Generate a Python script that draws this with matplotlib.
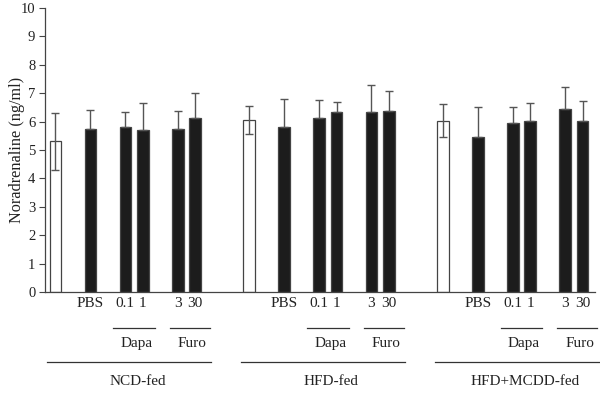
import matplotlib
matplotlib.use("Agg")
import matplotlib.pyplot as plt
import numpy as np

plt.rcParams['font.family'] = ['Liberation Serif', 'DejaVu Serif']

groups = ["NCD-fed", "HFD-fed", "HFD+MCDD-fed"]
bar_labels = ["", "PBS", "0.1", "1", "3", "30"]
ncd_mean = [5.3, 5.75, 5.8, 5.7, 5.72, 6.12]
ncd_err = [1.0, 0.67, 0.53, 0.95, 0.65, 0.88]
hfd_mean = [6.06, 5.82, 6.11, 6.33, 6.33, 6.37]
hfd_err = [0.5, 0.98, 0.64, 0.34, 0.95, 0.71]
mcdd_mean = [6.02, 5.47, 5.96, 6.01, 6.44, 6.01]
mcdd_err = [0.58, 1.03, 0.56, 0.64, 0.78, 0.72]
means = [ncd_mean, hfd_mean, mcdd_mean]
errs = [ncd_err, hfd_err, mcdd_err]
ylabel = "Noradrenaline (ng/ml)"
yticks = list(range(0, 11))

within = np.array([0, 2, 4, 5, 7, 8], dtype=float)
gstep = 11.09
width = 0.66
edge = "#444444"
fs = 11

fig = plt.figure(figsize=(6.0, 3.93), dpi=100)
ax = fig.add_axes([0.075, 0.257, 0.917, 0.723])

xt = ax.get_xaxis_transform()
for g in range(3):
    x = within + g * gstep
    m = np.array(means[g])
    e = np.array(errs[g])
    colors = ["white"] + ["#1c1c1c"] * 5
    ax.bar(x, m, width=width, color=colors, edgecolor=edge, linewidth=0.9, zorder=2)
    lower = np.zeros_like(e)
    lower[0] = e[0]
    ax.errorbar(x, m, yerr=[lower, e], fmt="none", ecolor="#555555",
                elinewidth=1.0, capsize=3, capthick=1.0, zorder=3)
    for xi, lab in zip(x, bar_labels):
        if lab:
            ax.text(xi, -0.042, lab, transform=xt, ha="center", va="center",
                    fontsize=fs, color="#222222")
    base = g * gstep
    ax.plot([base + 3.3, base + 5.7], [-0.126, -0.126], transform=xt,
            color="#333333", lw=0.9, clip_on=False)
    ax.text(base + 4.64, -0.18, "Dapa", transform=xt, ha="center", va="center",
            fontsize=fs, color="#222222")
    ax.plot([base + 6.55, base + 8.85], [-0.126, -0.126], transform=xt,
            color="#333333", lw=0.9, clip_on=False)
    ax.text(base + 7.83, -0.18, "Furo", transform=xt, ha="center", va="center",
            fontsize=fs, color="#222222")
    ax.plot([base - 0.47, base + 8.92], [-0.245, -0.245], transform=xt,
            color="#333333", lw=0.9, clip_on=False)
    ax.text(base + 4.69, -0.316, groups[g], transform=xt, ha="center", va="center",
            fontsize=fs, color="#222222")

ax.set_xlim(-0.6, 30.9)
ax.set_ylim(0, 10)
ax.set_yticks(yticks)
ax.set_yticklabels([str(t) for t in yticks], fontsize=10.5, color="#222222")
ax.set_xticks([])
ax.set_ylabel(ylabel, fontsize=11.7, color="#222222")
ax.yaxis.set_label_coords(-0.051, 0.5)
ax.yaxis.label.set_va("center")
for s in ["top", "right"]:
    ax.spines[s].set_visible(False)
for s in ["left", "bottom"]:
    ax.spines[s].set_color("#444444")
    ax.spines[s].set_linewidth(0.9)
ax.tick_params(axis="y", length=4, width=0.8, color="#444444", pad=3)

fig.savefig("out.png", dpi=100)
